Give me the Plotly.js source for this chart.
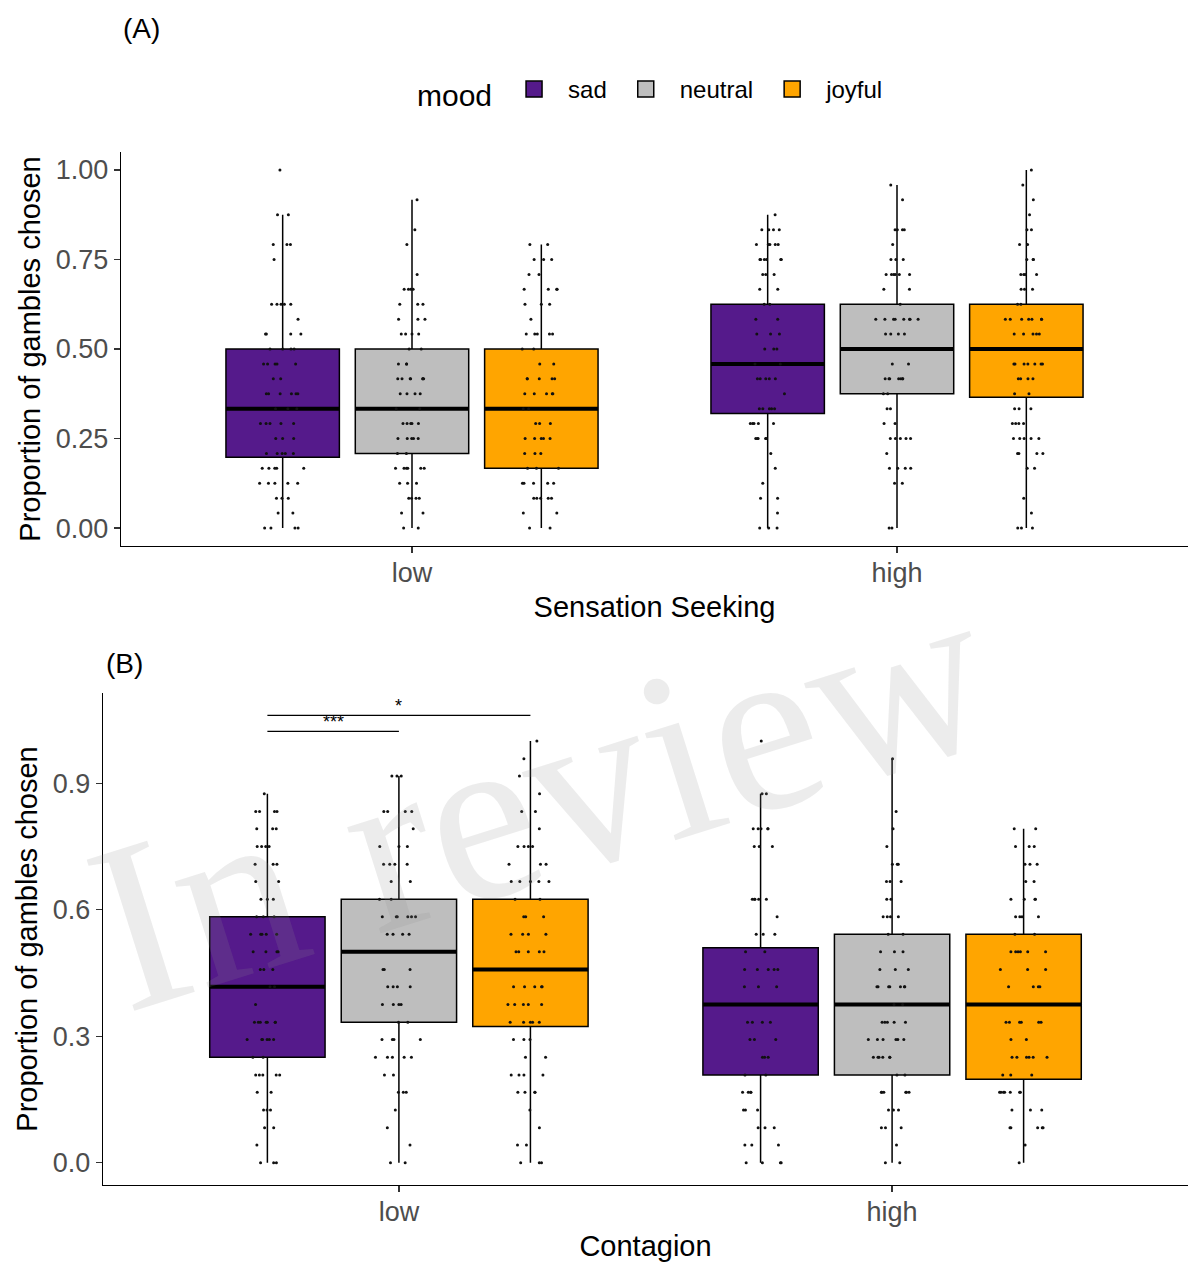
<!DOCTYPE html>
<html>
<head>
<meta charset="utf-8">
<script src="https://cdn.plot.ly/plotly-3.0.1.min.js"></script>
<style>
html,body{margin:0;padding:0;background:#ffffff;}
#chart{width:1190px;height:1263px;}
</style>
</head>
<body>
<div id="chart"></div>
<script>
// ---------------- data ----------------
const MOODS = ['sad', 'neutral', 'joyful'];
const MOOD_COLORS = ['#551A8B', '#BEBEBE', '#FFA500'];
const GROUPS = ['low', 'high'];

// response levels (proportions of 24 trials)
const LEVELS = [0, 0.042, 0.083, 0.125, 0.167, 0.208, 0.25, 0.292, 0.333, 0.375, 0.417, 0.458,
                0.5, 0.542, 0.583, 0.625, 0.667, 0.708, 0.75, 0.792, 0.833, 0.875, 0.917, 0.958, 1];

// Panel A (Sensation Seeking) box statistics, per mood: [low, high]
const A_Q1  = [[0.198, 0.320], [0.208, 0.375], [0.167, 0.365]];
const A_MED = [[0.333, 0.458], [0.333, 0.500], [0.333, 0.500]];
const A_Q3  = [[0.500, 0.625], [0.500, 0.625], [0.500, 0.625]];
const A_LO  = [[0, 0], [0, 0], [0, 0]];
const A_HI  = [[0.875, 0.875], [0.917, 0.958], [0.792, 1.000]];

// Panel B (Contagion) box statistics, per mood: [low, high]
const B_Q1  = [[0.250, 0.208], [0.333, 0.208], [0.323, 0.198]];
const B_MED = [[0.417, 0.375], [0.500, 0.375], [0.458, 0.375]];
const B_Q3  = [[0.583, 0.510], [0.625, 0.542], [0.625, 0.542]];
const B_LO  = [[0, 0], [0, 0], [0, 0]];
const B_HI  = [[0.875, 0.875], [0.917, 0.958], [1.000, 0.792]];

// number of participants at each LEVEL (sad, neutral, joyful)
const A_COUNTS_LOW = [
  [4,2,3,5,5,5,3,5,3,6,2,5,4,4,1,5,0,0,1,3,0,2,0,0,1],
  [2,2,4,3,6,2,5,5,2,4,7,3,2,4,3,3,4,1,0,1,1,0,1,0,0],
  [2,2,5,5,3,3,5,3,2,5,5,2,2,5,1,3,4,2,3,2,0,0,0,0,0]
];
const A_COUNTS_HIGH = [
  [3,1,2,1,1,1,5,5,5,1,5,2,3,3,2,2,2,3,6,5,4,1,0,0,0],
  [2,0,0,2,4,1,5,2,2,2,7,2,0,4,8,1,2,6,3,1,4,0,1,1,0],
  [3,1,1,0,2,4,5,4,3,2,4,7,0,5,7,2,3,4,3,2,2,1,1,1,1]
];
const B_COUNTS_LOW = [
  [3,1,2,3,2,5,2,6,7,1,2,3,4,5,3,3,2,3,4,3,4,1,0,0,0],
  [2,1,1,1,3,2,5,4,2,4,4,3,0,4,6,2,2,4,3,1,4,0,3,0,0],
  [3,2,1,1,4,4,2,3,5,5,5,0,5,4,3,2,5,3,4,1,2,1,1,1,1]
];
const B_COUNTS_HIGH = [
  [4,3,3,3,4,2,3,3,4,0,3,5,2,3,1,5,0,0,3,5,0,2,0,0,1],
  [2,1,3,3,6,2,6,6,5,2,7,3,3,2,4,2,3,3,1,1,1,0,0,1,0],
  [1,1,5,3,7,3,6,2,6,0,4,3,6,2,4,4,2,3,3,2,0,0,0,0,0]
];

// significance brackets in panel B (low group)
const SIG_FROM  = ['sad', 'sad'];
const SIG_TO    = ['neutral', 'joyful'];
const SIG_LABEL = ['***', '*'];
const SIG_Y     = [1.023, 1.061];

// ---------------- layout constants ----------------
const FONT = 'Liberation Sans, Arial, Helvetica, sans-serif';
const BOXGAP = 0.2, BOXGROUPGAP = 0.123;
const W = 1190, H = 1263, ML = 103, MR = 2;
const PW = W - ML - MR;
const px = v => (v - ML) / PW;
const py = v => 1 - v / H;

function expand(counts) {
  const ys = [];
  counts.forEach((c, k) => { for (let j = 0; j < c; j++) ys.push(LEVELS[k]); });
  return ys;
}

const traces = [];
function panel(xa, ya, tag, Q1, MED, Q3, LO, HI, CL, CH) {
  MOODS.forEach((m, i) => {
    const common = {type: 'box', xaxis: xa, yaxis: ya, offsetgroup: m, alignmentgroup: tag,
                    showlegend: false, hoverinfo: 'skip', name: m, whiskerwidth: 0};
    traces.push(Object.assign({}, common, {
      x: GROUPS, q1: Q1[i], median: MED[i], q3: Q3[i], lowerfence: LO[i], upperfence: HI[i],
      fillcolor: MOOD_COLORS[i], line: {color: '#000000', width: 1.5}, boxpoints: false
    }));
    traces.push(Object.assign({}, common, {
      x: GROUPS, q1: MED[i], median: MED[i], q3: MED[i], lowerfence: MED[i], upperfence: MED[i],
      fillcolor: 'rgba(0,0,0,0)', line: {color: '#000000', width: 4}, boxpoints: false
    }));
    const yl = expand(CL[i]), yh = expand(CH[i]);
    traces.push(Object.assign({}, common, {
      x: yl.map(() => GROUPS[0]).concat(yh.map(() => GROUPS[1])),
      y: yl.concat(yh),
      boxpoints: 'all', jitter: 0.42, pointpos: 0,
      fillcolor: 'rgba(0,0,0,0)', line: {color: 'rgba(0,0,0,0)', width: 0},
      marker: {color: '#111111', size: 3, opacity: 1}
    }));
  });
}
panel('x', 'y', 'A', A_Q1, A_MED, A_Q3, A_LO, A_HI, A_COUNTS_LOW, A_COUNTS_HIGH);
panel('x2', 'y2', 'B', B_Q1, B_MED, B_Q3, B_LO, B_HI, B_COUNTS_LOW, B_COUNTS_HIGH);

// legend proxies
MOODS.forEach((m, i) => {
  traces.push({type: 'scatter', mode: 'markers', x: [null], y: [null], name: m, xaxis: 'x', yaxis: 'y',
    marker: {symbol: 'square', size: 26, color: MOOD_COLORS[i], line: {color: '#000', width: 1.5}},
    showlegend: true, hoverinfo: 'skip'});
});

// significance shapes / labels
const offset = m => (MOODS.indexOf(m) - 1) * (1 - BOXGAP) / 3;
const shapes = [], annotations = [];
SIG_FROM.forEach((f, k) => {
  const x0 = offset(f), x1 = offset(SIG_TO[k]);
  shapes.push({type: 'line', xref: 'x2', yref: 'y2', x0: x0, x1: x1, y0: SIG_Y[k], y1: SIG_Y[k],
               line: {color: '#000', width: 1.2}});
  annotations.push({xref: 'x2', yref: 'y2', x: (x0 + x1) / 2, y: SIG_Y[k], yanchor: 'bottom',
                    yshift: -3, text: SIG_LABEL[k], showarrow: false,
                    font: {family: FONT, size: 18, color: '#000'}});
});
annotations.push({xref: 'paper', yref: 'paper', x: px(141), y: py(28), xanchor: 'center', yanchor: 'middle',
                  text: '(A)', showarrow: false, font: {family: FONT, size: 28, color: '#000'}});
annotations.push({xref: 'paper', yref: 'paper', x: px(124), y: py(663), xanchor: 'center', yanchor: 'middle',
                  text: '(B)', showarrow: false, font: {family: FONT, size: 28, color: '#000'}});
annotations.push({xref: 'paper', yref: 'paper', x: px(540), y: py(797), xanchor: 'center', yanchor: 'middle',
                  text: 'In review', showarrow: false,
                  textangle: -17.5, font: {family: 'Liberation Serif, Times New Roman, serif', size: 242,
                  color: 'rgba(140,140,140,0.17)'}});

function xAxis(domain, anchor, title) {
  return {domain: domain, anchor: anchor, type: 'category', categoryorder: 'array', categoryarray: GROUPS,
    range: [-0.6, 1.6], showline: true, linecolor: '#000', linewidth: 1.3, ticks: 'outside',
    ticklen: 6, tickwidth: 1.2, tickcolor: '#333', showgrid: false, zeroline: false,
    ticklabelstandoff: -4,
    tickfont: {family: FONT, size: 27, color: '#4d4d4d'}, automargin: false, fixedrange: true,
    title: {text: title, font: {family: FONT, size: 29, color: '#000'}, standoff: 10}};
}
function yAxis(domain, anchor, range, dtick, fmt) {
  return {domain: domain, anchor: anchor, range: range, dtick: dtick, tick0: 0, tickformat: fmt, showline: true,
    linecolor: '#000', linewidth: 1.3, ticks: 'outside', ticklen: 6, tickwidth: 1.2, tickcolor: '#333',
    showgrid: false, zeroline: false, tickfont: {family: FONT, size: 27, color: '#4d4d4d'},
    automargin: false, fixedrange: true,
    title: {text: 'Proportion of gambles chosen', font: {family: FONT, size: 29, color: '#000'}, standoff: 6}};
}

const layout = {
  width: W, height: H, margin: {l: ML, r: MR, t: 0, b: 0},
  paper_bgcolor: '#fff', plot_bgcolor: '#fff',
  font: {family: FONT, color: '#000'},
  boxmode: 'group', boxgap: BOXGAP, boxgroupgap: BOXGROUPGAP,
  xaxis: xAxis([px(121), 1], 'y', 'Sensation Seeking'),
  yaxis: yAxis([py(546), py(152)], 'x', [-0.05, 1.05], 0.25, '.2f'),
  xaxis2: xAxis([0, 1], 'y2', 'Contagion'),
  yaxis2: yAxis([py(1185), py(693)], 'x2', [-0.053, 1.114], 0.3, '.1f'),
  showlegend: true,
  legend: {orientation: 'h', x: px(652), xanchor: 'center', y: py(91.5), yanchor: 'middle',
    title: {text: 'mood', side: 'left', font: {family: FONT, size: 30, color: '#000'}},
    font: {family: FONT, size: 24, color: '#000'}, itemwidth: 58, valign: 'middle',
    bgcolor: 'rgba(0,0,0,0)'},
  shapes: shapes, annotations: annotations
};

Plotly.newPlot('chart', traces, layout, {displayModeBar: false, staticPlot: true});
</script>
</body>
</html>
